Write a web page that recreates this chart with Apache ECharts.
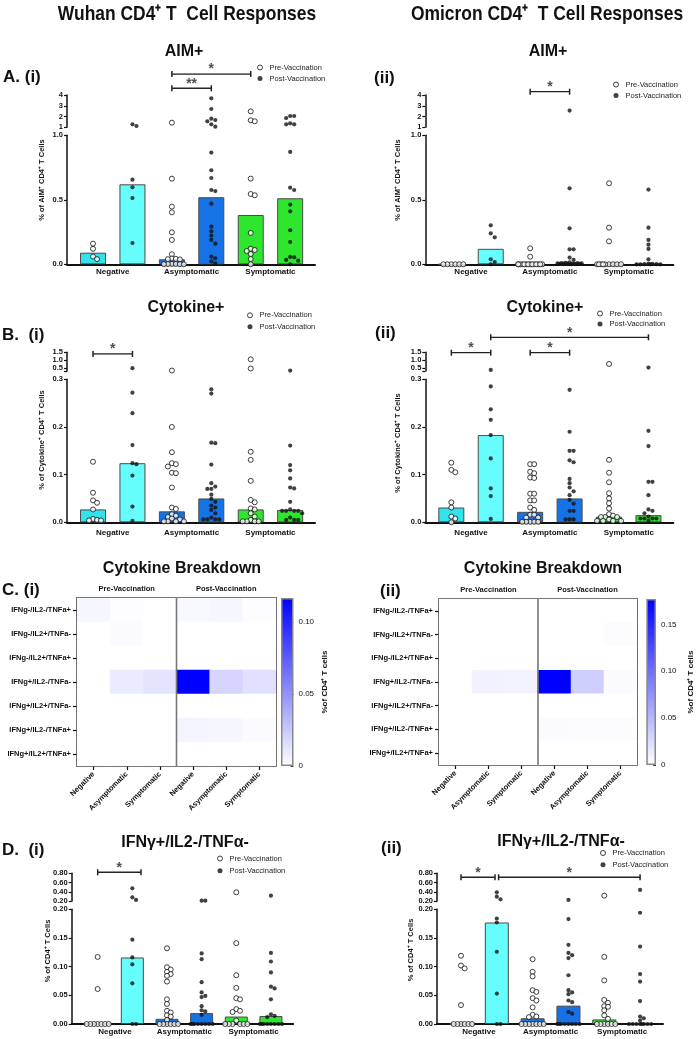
<!DOCTYPE html>
<html><head><meta charset="utf-8">
<script src="https://cdn.jsdelivr.net/npm/echarts@6/dist/echarts.min.js"></script>
<style>html,body{margin:0;padding:0;background:#fff}#c{width:696px;height:1039px}</style>
</head><body><div id="c"></div>
<script>
// ================= DATA =================
const groups = ['Negative', 'Asymptomatic', 'Symptomatic'];
const legendNames = ['Pre-Vaccination', 'Post-Vaccination'];

// A(i) Wuhan AIM+  (per group: Negative, Asymptomatic, Symptomatic)
const aimWuhanPre = [
  [0.16, 0.12, 0.06, 0.04],
  [1.43, 0.664, 0.447, 0.403, 0.248, 0.189, 0.078, 0.045, 0.042, 0.04, 0.038, 0.003, 0.002, 0.002, 0.001, 0.001, 0],
  [2.48, 1.65, 1.56, 0.664, 0.545, 0.535, 0.243, 0.121, 0.111, 0.103, 0.08, 0.041, 0]
];
const aimWuhanPost = [
  [1.28, 1.12, 0.656, 0.597, 0.514, 0.165],
  [3.69, 2.70, 1.80, 1.68, 1.56, 1.28, 1.06, 0.866, 0.729, 0.669, 0.576, 0.568, 0.47, 0.292, 0.256, 0.222, 0.189, 0.16, 0.06, 0.047, 0.023, 0.008],
  [2.05, 2.05, 1.86, 1.37, 1.28, 1.28, 0.871, 0.594, 0.576, 0.463, 0.411, 0.264, 0.173, 0.057, 0.054, 0.034, 0.028, 0]
];
const aimWuhanBars = [0.09, 0.62, 0.039, 0.52, 0.382, 0.512];

// A(ii) Omicron AIM+
const aimOmicronPre = [
  [0, 0, 0, 0, 0, 0],
  [0.124, 0.059, 0, 0, 0, 0, 0, 0, 0, 0, 0, 0, 0, 0, 0, 0],
  [0.628, 0.284, 0.178, 0, 0, 0, 0, 0, 0, 0, 0, 0]
];
const aimOmicronPost = [
  [0.302, 0.240, 0.209, 0.039, 0.018, 0],
  [2.55, 0.589, 0.279, 0.116, 0.116, 0.052, 0.034, 0.015, 0.012, 0.01, 0.01, 0.008, 0.008, 0.006, 0.005, 0.005, 0.004, 0.003, 0.002, 0.001],
  [0.579, 0.284, 0.189, 0.152, 0.119, 0.039, 0.005, 0.003, 0.002, 0.001, 0, 0, 0, 0]
];
const aimOmicronBars = [0, 0.12, 0.003, 0.012, 0.004, 0.004];

// B(i) Wuhan Cytokine+
const cytoWuhanPre = [
  [0.127, 0.062, 0.046, 0.041, 0.027, 0.007, 0.005, 0.004, 0.004],
  [0.33, 0.2, 0.147, 0.124, 0.122, 0.117, 0.104, 0.103, 0.073, 0.031, 0.028, 0.017, 0.014, 0.011, 0.008, 0.006, 0.002, 0.002, 0.002, 0.002],
  [1.05, 0.46, 0.148, 0.131, 0.087, 0.047, 0.042, 0.029, 0.027, 0.019, 0.012, 0.005, 0.002, 0.002, 0.002, 0.002]
];
const cytoWuhanPost = [
  [0.48, 0.272, 0.229, 0.162, 0.124, 0.122, 0.098, 0.033, 0.003],
  [0.279, 0.27, 0.167, 0.166, 0.121, 0.082, 0.075, 0.07, 0.07, 0.058, 0.049, 0.043, 0.035, 0.031, 0.026, 0.019, 0.01, 0.006, 0.006, 0.006, 0.006],
  [0.33, 0.161, 0.12, 0.109, 0.092, 0.073, 0.071, 0.043, 0.027, 0.024, 0.024, 0.024, 0.024, 0.019, 0.01, 0.005, 0.005, 0.005]
];
const cytoWuhanBars = [0.027, 0.124, 0.023, 0.05, 0.027, 0.026];

// B(ii) Omicron Cytokine+
const cytoOmicronPre = [
  [0.125, 0.11, 0.105, 0.042, 0.031, 0.012, 0.008, 0],
  [0.122, 0.122, 0.106, 0.103, 0.094, 0.093, 0.06, 0.06, 0.046, 0.046, 0.031, 0.026, 0.016, 0.016, 0.01, 0.01, 0.001, 0.001, 0.001, 0.001, 0.001],
  [0.755, 0.131, 0.104, 0.084, 0.061, 0.05, 0.04, 0.029, 0.017, 0.014, 0.011, 0.011, 0.011, 0.006, 0.003, 0.003, 0.003, 0.003]
];
const cytoOmicronPost = [
  [0.37, 0.285, 0.237, 0.215, 0.183, 0.134, 0.071, 0.055, 0.007],
  [0.278, 0.19, 0.15, 0.15, 0.13, 0.126, 0.091, 0.082, 0.073, 0.065, 0.057, 0.047, 0.039, 0.024, 0.024, 0.006, 0.006, 0.006],
  [0.52, 0.192, 0.16, 0.085, 0.085, 0.057, 0.027, 0.024, 0.019, 0.012, 0.008, 0.008, 0.008, 0.008, 0.003]
];
const cytoOmicronBars = [0.031, 0.183, 0.022, 0.05, 0.012, 0.015];

// C Cytokine breakdown heatmaps (rows x columns: Pre Neg/Asym/Sym, Post Neg/Asym/Sym)
const heatRows = ['IFNg-/IL2-/TNFa+', 'IFNg-/IL2+/TNFa-', 'IFNg-/IL2+/TNFa+', 'IFNg+/IL2-/TNFa-', 'IFNg+/IL2+/TNFa-', 'IFNg+/IL2-/TNFa+', 'IFNg+/IL2+/TNFa+'];
const heatCols = ['Negative', 'Asymptomatic', 'Symptomatic', 'Negative', 'Asymptomatic', 'Symptomatic'];
const heatPhases = ['Pre-Vaccination', 'Post-Vaccination'];
const heatWuhan = [
  [0.004, 0.001, 0, 0.003, 0.004, 0.001],
  [0, 0.002, 0, 0, 0, 0],
  [0, 0, 0, 0, 0, 0],
  [0, 0.009, 0.013, 0.1167, 0.019, 0.014],
  [0, 0, 0, 0, 0, 0],
  [0, 0, 0, 0.005, 0.004, 0.002],
  [0, 0, 0, 0, 0, 0]
];
const heatOmicron = [
  [0, 0, 0, 0, 0, 0],
  [0, 0, 0, 0, 0, 0.002],
  [0, 0, 0, 0, 0, 0],
  [0, 0.01, 0.008, 0.177, 0.033, 0.003],
  [0, 0, 0, 0, 0, 0],
  [0, 0, 0, 0.003, 0.002, 0.002],
  [0, 0, 0, 0, 0, 0]
];
const colorbarTicksWuhan = [0, 0.05, 0.10];
const colorbarTicksOmicron = [0, 0.05, 0.10, 0.15];

// D(i) Wuhan IFNγ+/IL2-/TNFα-
const ifnWuhanPre = [
  [0.117, 0.061, 0, 0, 0, 0, 0, 0, 0],
  [0.132, 0.099, 0.095, 0.091, 0.087, 0.084, 0.074, 0.043, 0.035, 0.023, 0.02, 0.015, 0.013, 0.007, 0, 0, 0, 0, 0, 0],
  [0.393, 0.141, 0.085, 0.063, 0.045, 0.043, 0.026, 0.023, 0.021, 0.006, 0, 0, 0, 0, 0, 0]
];
const ifnWuhanPost = [
  [0.479, 0.286, 0.229, 0.147, 0.116, 0.104, 0.071, 0, 0],
  [0.214, 0.214, 0.123, 0.113, 0.073, 0.055, 0.049, 0.047, 0.031, 0.024, 0.022, 0.016, 0, 0, 0, 0, 0, 0, 0, 0],
  [0.321, 0.124, 0.109, 0.09, 0.065, 0.062, 0.043, 0.017, 0.014, 0.012, 0, 0, 0, 0, 0, 0, 0, 0]
];
const ifnWuhanBars = [0, 0.116, 0.009, 0.019, 0.013, 0.014];

// D(ii) Omicron IFNγ+/IL2-/TNFα-
const ifnOmicronPre = [
  [0.119, 0.102, 0.097, 0.033, 0, 0, 0, 0, 0, 0],
  [0.113, 0.091, 0.083, 0.059, 0.056, 0.045, 0.041, 0.029, 0.016, 0.013, 0.012, 0, 0, 0, 0, 0, 0, 0],
  [0.321, 0.117, 0.076, 0.042, 0.037, 0.031, 0.03, 0.024, 0.015, 0.009, 0, 0, 0, 0, 0, 0]
];
const ifnOmicronPost = [
  [0.393, 0.3, 0.243, 0.184, 0.177, 0.126, 0.053, 0, 0],
  [0.229, 0.183, 0.138, 0.124, 0.12, 0.115, 0.085, 0.059, 0.055, 0.052, 0.041, 0.038, 0.021, 0.018, 0, 0, 0, 0, 0, 0, 0, 0],
  [0.443, 0.194, 0.135, 0.087, 0.074, 0.04, 0.013, 0.01, 0.006, 0, 0, 0, 0, 0, 0, 0, 0]
];
const ifnOmicronBars = [0, 0.177, 0.01, 0.032, 0.008, 0.001];

// significance brackets (bar positions 1..6, level 0/1)
const bracketsA1 = [{a: 3, b: 4, lvl: 0, t: '**'}, {a: 3, b: 5, lvl: 1, t: '*'}];
const bracketsA2 = [{a: 3, b: 4, lvl: 0, t: '*'}];
const bracketsB1 = [{a: 1, b: 2, lvl: 0, t: '*'}];
const bracketsB2 = [{a: 1, b: 2, lvl: 0, t: '*'}, {a: 3, b: 4, lvl: 0, t: '*'}, {a: 2, b: 6, lvl: 1, t: '*'}];
const bracketsD1 = [{a: 1, b: 2.25, lvl: 0, t: '*'}];
const bracketsD2 = [{a: 1, b: 1.95, lvl: 0, t: '*'}, {a: 2.05, b: 6, lvl: 0, t: '*'}];

// ================= STYLE / LAYOUT =================
const FONT = '"Liberation Sans", Arial, Helvetica, sans-serif';
const INK = '#111';
const barColors = ['#33e3ec', '#66fdfd', '#1673e6', '#1673e6', '#2ee62e', '#2ee62e'];

const grid = [], xAxis = [], yAxis = [], series = [], legend = [], visualMap = [], graphic = [];

function swarmOffsets(vals, pxPerUnit, step, minD, maxK) {
  const order = vals.map((v, i) => i).sort((a, b) => vals[b] - vals[a]);
  const placed = [];
  const off = new Array(vals.length).fill(0);
  const cands = [0];
  for (let k = 1; k <= maxK; k++) cands.push(k * step, -k * step);
  for (const i of order) {
    const y = vals[i] * pxPerUnit;
    let chosen = null;
    for (const x of cands) {
      if (placed.every(p => Math.hypot(p.x - x, p.y - y) >= minD)) { chosen = x; break; }
    }
    if (chosen === null) {
      let bestD = -1;
      for (let x = -maxK * step; x <= maxK * step + 1e-9; x += step / 2) {
        const d = Math.min(...placed.map(p => Math.hypot(p.x - x, p.y - y)));
        if (d > bestD) { bestD = d; chosen = x; }
      }
    }
    placed.push({x: chosen, y});
    off[i] = chosen;
  }
  return off;
}

function axisLabelStyle(size, bold) {
  return {fontSize: size, fontWeight: bold ? 'bold' : 'normal', color: INK, fontFamily: FONT};
}

function addPanel(cfg, pre, post, bars, brackets) {
  const L = cfg.lower, U = cfg.upper, A = cfg.ann;
  const unitPx = cfg.width / (cfg.xmax - cfg.xmin);
  const gi = grid.length, xi = xAxis.length, yi = yAxis.length;
  grid.push({left: cfg.left, top: L.top, width: cfg.width, height: L.height});
  grid.push({left: cfg.left, top: U.top, width: cfg.width, height: U.height});
  grid.push({left: cfg.left, top: A.top, width: cfg.width, height: A.height});
  xAxis.push({gridIndex: gi, type: 'value', min: cfg.xmin, max: cfg.xmax,
    axisLine: {show: true, onZero: false, lineStyle: {color: INK, width: 2}},
    axisTick: {show: false}, splitLine: {show: false},
    axisLabel: Object.assign({customValues: [1.5, 3.5, 5.5], formatter: v => groups[Math.round((v - 1.5) / 2)], margin: cfg.catMargin}, axisLabelStyle(8, true))});
  xAxis.push({gridIndex: gi + 1, type: 'value', min: cfg.xmin, max: cfg.xmax, show: false});
  xAxis.push({gridIndex: gi + 2, type: 'value', min: cfg.xmin, max: cfg.xmax, show: false});
  const yLine = {show: true, onZero: false, lineStyle: {color: INK, width: 1.5}};
  yAxis.push({gridIndex: gi, type: 'value', position: 'left', min: L.min, max: L.max, interval: L.interval,
    axisLine: yLine, axisTick: {show: true, length: 3, lineStyle: {color: INK, width: 1.2}}, splitLine: {show: false},
    axisLabel: Object.assign({formatter: v => v.toFixed(L.dec), margin: 4, showMinLabel: true, showMaxLabel: true, hideOverlap: false}, axisLabelStyle(7.5, true))});
  const upTick = {show: true, length: 3, lineStyle: {color: INK, width: 1.2}};
  const upLabel = Object.assign({formatter: v => v.toFixed(U.dec), margin: 4, showMinLabel: true, showMaxLabel: true, hideOverlap: false, lineHeight: 7}, axisLabelStyle(7.5, true));
  const upAxis = {gridIndex: gi + 1, type: 'value', position: 'left', min: U.min, max: U.max, axisLine: yLine, splitLine: {show: false}, axisTick: upTick, axisLabel: upLabel};
  if (U.tickValues) { upTick.customValues = U.tickValues; upLabel.customValues = U.labelValues; }
  else upAxis.interval = U.interval;
  yAxis.push(upAxis);
  yAxis.push({gridIndex: gi + 2, type: 'value', position: 'left', min: 0, max: 1, show: false});
  if (U.labelValues2) {
    // second label row for closely spaced ticks (avoids automatic overlap hiding)
    yAxis.push({gridIndex: gi + 1, type: 'value', position: 'left', offset: 0, min: U.min, max: U.max, axisLine: {show: false}, axisTick: {show: false}, splitLine: {show: false},
      axisLabel: Object.assign({}, upLabel, {customValues: U.labelValues2})});
  }

  // bars
  series.push({type: 'bar', name: 'bars', xAxisIndex: xi, yAxisIndex: yi, barWidth: cfg.barW, silent: true,
    itemStyle: {borderColor: '#4a4a4a', borderWidth: 1},
    data: bars.map((v, i) => ({value: [i + 1, v], itemStyle: {color: barColors[i]}}))});

  // points
  const lowPx = L.height / (L.max - L.min), upPx = U.height / (U.max - U.min);
  function makePts(sets, pos0) {
    const low = [], up = [];
    sets.forEach((vals, g) => {
      const c = pos0 + 2 * g;
      const lv = vals.filter(v => v <= L.max), uv = vals.filter(v => v > L.max);
      const lo = swarmOffsets(lv.map(v => v - L.min), lowPx, cfg.step, cfg.step, 3);
      const uo = swarmOffsets(uv.map(v => v - U.min), upPx, cfg.step, cfg.step, 3);
      lv.forEach((v, i) => low.push([c + lo[i] / unitPx, v]));
      uv.forEach((v, i) => up.push([c + uo[i] / unitPx, v]));
    });
    return [low, up];
  }
  const preStyle = {symbol: 'circle', symbolSize: 5, itemStyle: {color: '#fff', borderColor: INK, borderWidth: 1}};
  const postStyle = {symbol: 'circle', symbolSize: 4.2, itemStyle: {color: INK}};
  const [preLow, preUp] = makePts(pre, 1);
  const [postLow, postUp] = makePts(post, 2);
  series.push(Object.assign({type: 'scatter', name: legendNames[0], xAxisIndex: xi, yAxisIndex: yi, data: preLow, z: 5}, preStyle));
  series.push(Object.assign({type: 'scatter', name: legendNames[1], xAxisIndex: xi, yAxisIndex: yi, data: postLow, z: 5}, postStyle));
  series.push(Object.assign({type: 'scatter', name: legendNames[0], xAxisIndex: xi + 1, yAxisIndex: yi + 1, data: preUp, z: 5}, preStyle));
  series.push(Object.assign({type: 'scatter', name: legendNames[1], xAxisIndex: xi + 1, yAxisIndex: yi + 1, data: postUp, z: 5}, postStyle));

  // brackets
  brackets.forEach(b => {
    series.push({type: 'line', xAxisIndex: xi + 2, yAxisIndex: yi + 2, silent: true,
      data: [[b.a, b.lvl], [b.b, b.lvl]], symbol: 'rect', symbolSize: [1.5, 6], showSymbol: true,
      itemStyle: {color: '#222'}, lineStyle: {color: '#222', width: 1.5}});
    series.push({type: 'scatter', xAxisIndex: xi + 2, yAxisIndex: yi + 2, silent: true,
      data: [[(b.a + b.b) / 2, b.lvl]], symbolSize: 1, itemStyle: {color: 'rgba(0,0,0,0)'},
      label: {show: true, formatter: b.t, position: 'top', distance: -3, fontSize: 14, fontWeight: 'bold', color: '#222', fontFamily: FONT}});
  });

  // legend
  legend.push({left: cfg.legend[0], top: cfg.legend[1], orient: 'vertical', padding: 0, itemWidth: 5, itemHeight: 5,
    itemGap: cfg.legendGap, selectedMode: false,
    textStyle: {fontSize: 7.5, color: '#222', fontFamily: FONT, padding: [0, 0, 0, 2]},
    data: [
      {name: legendNames[0], icon: 'circle', itemStyle: {color: '#fff', borderColor: INK, borderWidth: 1}},
      {name: legendNames[1], icon: 'circle', itemStyle: {color: INK, borderWidth: 0}}
    ]});

  // y axis name
  graphic.push({type: 'text', x: cfg.yName[0], y: cfg.yName[1], rotation: Math.PI / 2, silent: true,
    style: {text: cfg.yName[2], font: 'bold 7.5px ' + FONT, fill: INK, textAlign: 'center', textVerticalAlign: 'middle', align: 'center', verticalAlign: 'middle'}});
}

function addHeatmap(cfg, matrix, vmax, cbTicks) {
  const gi = grid.length, xi = xAxis.length, yi = yAxis.length;
  grid.push({left: cfg.left, top: cfg.top, width: cfg.width, height: cfg.height, show: true, borderColor: INK, borderWidth: 1.6, backgroundColor: '#fff', z: 0});
  xAxis.push({gridIndex: gi, type: 'category', data: heatCols, axisLine: {show: false},
    axisTick: {show: true, alignWithLabel: true, length: 4, interval: 0, lineStyle: {color: INK, width: 1.2}},
    axisLabel: Object.assign({rotate: 45, interval: 0, margin: 7}, axisLabelStyle(7.5, true)), splitLine: {show: false}});
  xAxis.push({gridIndex: gi, type: 'category', position: 'top', data: heatPhases, axisLine: {show: false}, axisTick: {show: false},
    axisLabel: Object.assign({margin: 5}, axisLabelStyle(7.5, true)), splitLine: {show: false}});
  // hidden value axes on the same grid for the pre/post separator
  xAxis.push({gridIndex: gi, type: 'value', min: 0, max: heatCols.length, show: false});
  yAxis.push({gridIndex: gi, type: 'category', position: 'left', data: heatRows, inverse: true, axisLine: {show: false},
    axisTick: {show: true, alignWithLabel: true, length: 4, interval: 0, lineStyle: {color: INK, width: 1.2}},
    axisLabel: Object.assign({interval: 0, margin: 6}, axisLabelStyle(7.5, true)), splitLine: {show: false}});
  yAxis.push({gridIndex: gi, type: 'value', min: 0, max: 1, show: false});
  const data = [];
  matrix.forEach((row, r) => row.forEach((v, c) => data.push([c, r, v])));
  const si = series.length;
  series.push({type: 'heatmap', xAxisIndex: xi, yAxisIndex: yi, data, silent: true, itemStyle: {borderWidth: 0}, z: 1});
  visualMap.push({type: 'continuous', show: false, seriesIndex: si, min: 0, max: vmax, dimension: 2, inRange: {color: ['#ffffff', '#0000ff']}});
  const sep = heatCols.length / heatPhases.length;
  series.push({type: 'line', xAxisIndex: xi + 2, yAxisIndex: yi + 1, silent: true, symbol: 'none', z: 3,
    data: [[sep, 0], [sep, 1]], lineStyle: {color: '#777', width: 1.6}});
  // colorbar
  const gc = grid.length;
  grid.push({left: cfg.cbLeft, top: cfg.top, width: cfg.cbWidth, height: cfg.height});
  xAxis.push({gridIndex: gc, type: 'category', data: [''], show: false});
  yAxis.push({gridIndex: gc, type: 'value', min: 0, max: vmax, position: 'right',
    axisLine: {show: false}, splitLine: {show: false},
    axisTick: {show: true, inside: true, length: 3, customValues: cbTicks, lineStyle: {color: '#444', width: 1}},
    axisLabel: Object.assign({customValues: cbTicks, formatter: v => v === 0 ? '0' : v.toFixed(2), margin: 5, showMinLabel: true, showMaxLabel: true}, axisLabelStyle(8, false)),
    name: '%of CD4⁺ T cells', nameLocation: 'middle', nameGap: cfg.nameGap, nameRotate: 90,
    nameTextStyle: {fontSize: 8, fontWeight: 'bold', color: INK, fontFamily: FONT}});
  series.push({type: 'bar', xAxisIndex: xAxis.length - 1, yAxisIndex: yAxis.length - 1, data: [vmax], barWidth: '100%', silent: true,
    itemStyle: {color: new echarts.graphic.LinearGradient(0, 0, 0, 1, [{offset: 0, color: '#0000ff'}, {offset: 1, color: '#ffffff'}]), borderColor: '#888', borderWidth: 1.5}});
}

// ---- panels ----
const lowerA = {top: 135.3, height: 129, min: 0, max: 1, interval: 0.5, dec: 1};
const upperA = {top: 95, height: 32.3, min: 1, max: 4, interval: 1, dec: 0};
const lowerB = {top: 379.3, height: 143, min: 0, max: 0.3, interval: 0.1, dec: 1};
const upperB = {top: 352.3, height: 18.7, min: 0.3, max: 1.5, tickValues: [0.3, 0.5, 1.0, 1.5], labelValues: [0.5, 1.5], labelValues2: [1.0], dec: 1};
const lowerD = {top: 909.3, height: 114.7, min: 0, max: 0.2, interval: 0.05, dec: 2};
const upperD = {top: 873.3, height: 28, min: 0.2, max: 0.8, interval: 0.2, dec: 2};

addPanel({left: 67, width: 248, xmin: 0.34, xmax: 6.63, barW: 26, step: 4, catMargin: 3, lower: lowerA, upper: upperA,
  ann: {top: 74, height: 14.3}, legend: [257, 63.5], legendGap: 3, yName: [41.7, 180, '% of AIM⁺ CD4⁺ T Cells']},
  aimWuhanPre, aimWuhanPost, aimWuhanBars, bracketsA1);
addPanel({left: 425.3, width: 248, xmin: 0.34, xmax: 6.63, barW: 26, step: 4, catMargin: 3, lower: lowerA, upper: upperA,
  ann: {top: 77, height: 14.7}, legend: [613, 80.5], legendGap: 3, yName: [398, 180, '% of AIM⁺ CD4⁺ T Cells']},
  aimOmicronPre, aimOmicronPost, aimOmicronBars, bracketsA2);
addPanel({left: 67, width: 248, xmin: 0.34, xmax: 6.63, barW: 26, step: 4, catMargin: 6, lower: lowerB, upper: upperB,
  ann: {top: 340, height: 14}, legend: [247, 311.3], legendGap: 3.4, yName: [41.7, 440, '% of Cytokine⁺ CD4⁺ T Cells']},
  cytoWuhanPre, cytoWuhanPost, cytoWuhanBars, bracketsB1);
addPanel({left: 425.3, width: 248, xmin: 0.34, xmax: 6.63, barW: 26, step: 4, catMargin: 6, lower: lowerB, upper: upperB,
  ann: {top: 337.3, height: 15.4}, legend: [597, 309.5], legendGap: 2.5, yName: [398, 443, '% of Cytokine⁺ CD4⁺ T Cells']},
  cytoOmicronPre, cytoOmicronPost, cytoOmicronBars, bracketsB2);

addHeatmap({left: 77, top: 598, width: 199, height: 168, cbLeft: 281, cbWidth: 12.5, nameGap: 27}, heatWuhan, 0.1167, colorbarTicksWuhan);
addHeatmap({left: 439, top: 599, width: 198, height: 166, cbLeft: 646.3, cbWidth: 12.4, nameGap: 31}, heatOmicron, 0.177, colorbarTicksOmicron);

addPanel({left: 71.7, width: 221.4, xmin: 0.25, xmax: 6.64, barW: 23, step: 3.7, catMargin: 4, lower: lowerD, upper: upperD,
  ann: {top: 858, height: 14.3}, legend: [217, 854.5], legendGap: 4.2, yName: [48, 951, '% of CD4⁺ T Cells']},
  ifnWuhanPre, ifnWuhanPost, ifnWuhanBars, bracketsD1);
addPanel({left: 437, width: 226, xmin: 0.33, xmax: 6.64, barW: 24, step: 3.7, catMargin: 4, lower: lowerD, upper: upperD,
  ann: {top: 863, height: 14.3}, legend: [600, 849], legendGap: 3.8, yName: [411, 950, '% of CD4⁺ T Cells']},
  ifnOmicronPre, ifnOmicronPost, ifnOmicronBars, bracketsD2);

// ---- titles & labels ----
function txt(s, x, y, font, align, scaleX) {
  graphic.push({type: 'text', x, y, scaleX: scaleX || 1, silent: true,
    style: {text: s, font, fill: INK, textAlign: align || 'center', align: align || 'center', textVerticalAlign: 'middle', verticalAlign: 'middle'}});
}
const HFONT = 'bold 21px ' + FONT;
txt('Wuhan CD4⁺ T  Cell Responses', 187, 14, HFONT, 'center', 0.83);
txt('Omicron CD4⁺  T Cell Responses', 547, 14, HFONT, 'center', 0.83);
const TFONT = 'bold 16px ' + FONT;
txt('AIM+', 184, 52, TFONT); txt('AIM+', 548, 52, TFONT);
txt('Cytokine+', 186, 308, TFONT); txt('Cytokine+', 545, 308, TFONT);
txt('Cytokine Breakdown', 182, 569, TFONT); txt('Cytokine Breakdown', 543, 569, TFONT);
txt('IFNγ+/IL2-/TNFα-', 185, 843, TFONT); txt('IFNγ+/IL2-/TNFα-', 561, 842, TFONT);
const PFONT = 'bold 17px ' + FONT;
txt('A. (i)', 3, 77, PFONT, 'left'); txt('(ii)', 374, 78, PFONT, 'left');
txt('B.  (i)', 2, 335, PFONT, 'left'); txt('(ii)', 375, 333, PFONT, 'left');
txt('C. (i)', 2, 590, PFONT, 'left'); txt('(ii)', 380, 591, PFONT, 'left');
txt('D.  (i)', 2, 850, PFONT, 'left'); txt('(ii)', 381, 848, PFONT, 'left');

const chart = echarts.init(document.getElementById('c'), null, {renderer: 'canvas'});
chart.setOption({
  animation: false,
  backgroundColor: '#fff',
  textStyle: {fontFamily: FONT},
  grid, xAxis, yAxis, series, legend, visualMap,
  graphic: {elements: graphic}
});
</script>
</body></html>
